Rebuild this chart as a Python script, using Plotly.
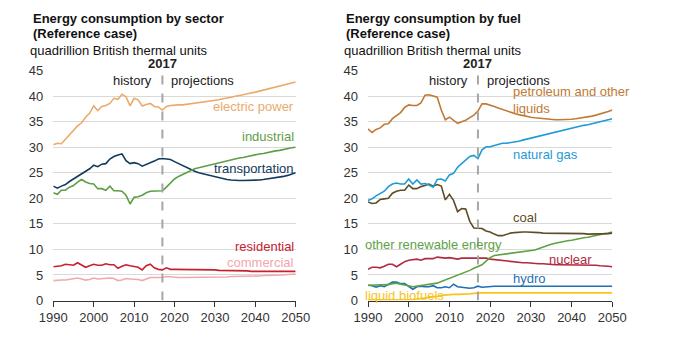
import plotly.graph_objects as go

years = list(range(1990, 2051))

# ---- Sector (left) ----
electric_power = [30.5,30.8,30.7,31.6,32.3,33.2,34.2,34.8,35.9,36.7,
                  38.1,37.2,38.0,38.2,38.6,39.6,39.4,40.4,39.9,38.1,
                  39.6,39.3,38.1,38.4,38.6,38.0,37.9,37.3,38.0,38.2,
                  38.3,38.3,38.3,38.4,38.5,38.7,38.8,38.9,39.0,39.1,
                  39.2,39.3,39.5,39.6,39.8,40.0,40.1,40.3,40.5,40.6,
                  40.8,41.0,41.2,41.3,41.5,41.7,41.9,42.1,42.3,42.5,
                  42.8]
transportation = [22.4,22.0,22.4,22.7,23.3,23.8,24.3,24.8,25.2,25.8,
                  26.5,26.2,26.7,26.8,27.7,28.2,28.5,28.7,27.4,26.8,
                  27.0,26.8,26.3,26.6,27.0,27.3,27.7,27.8,27.7,27.6,
                  27.2,26.8,26.5,26.1,25.7,25.3,25.0,24.8,24.6,24.4,
                  24.2,24.0,23.8,23.7,23.6,23.5,23.5,23.5,23.5,23.5,
                  23.5,23.6,23.7,23.8,23.9,24.0,24.2,24.3,24.5,24.7,
                  25.0]
industrial = [21.1,20.8,21.6,21.6,22.2,22.5,23.2,23.7,23.2,22.9,
              22.8,21.9,21.9,21.6,22.4,21.5,21.5,21.4,20.6,18.9,
              20.2,20.3,20.6,21.1,21.4,21.4,21.4,21.5,22.2,23.0,
              23.8,24.3,24.7,25.1,25.5,25.8,26.0,26.2,26.4,26.6,
              26.8,27.0,27.2,27.3,27.5,27.7,27.9,28.0,28.2,28.4,
              28.5,28.7,28.8,29.0,29.1,29.3,29.4,29.6,29.7,29.9,
              30.0]
residential = [6.6,6.7,6.8,7.1,7.0,6.9,7.4,6.9,6.5,6.8,
               7.1,6.9,6.9,7.2,7.0,7.0,6.3,6.7,7.0,6.8,
               6.7,6.5,6.0,6.8,7.1,6.4,6.1,6.0,6.4,6.1,
               6.1,6.1,6.1,6.1,6.0,6.0,6.0,6.0,6.0,6.0,
               6.0,5.9,5.9,5.9,5.9,5.9,5.8,5.8,5.8,5.7,
               5.7,5.7,5.7,5.7,5.7,5.7,5.7,5.7,5.7,5.7,
               5.7]
commercial = [3.9,4.0,4.0,4.0,4.1,4.2,4.4,4.2,4.0,4.1,
              4.4,4.2,4.3,4.3,4.4,4.3,3.9,4.0,4.3,4.2,
              4.2,4.1,3.9,4.2,4.5,4.5,4.5,4.5,4.7,4.6,
              4.5,4.5,4.5,4.5,4.5,4.5,4.5,4.5,4.5,4.5,
              4.6,4.6,4.6,4.6,4.7,4.7,4.7,4.7,4.8,4.8,
              4.8,4.8,4.9,4.9,4.9,5.0,5.0,5.0,5.1,5.1,
              5.2]

# ---- Fuel (right) ----
petroleum = [33.6,32.9,33.5,33.8,34.5,34.6,35.6,36.2,36.8,37.8,
             38.3,38.2,38.2,38.7,40.2,40.3,40.0,39.8,37.3,35.4,
             35.9,35.3,34.7,35.0,35.3,35.8,36.3,37.1,38.5,38.5,
             38.3,38.0,37.7,37.4,37.1,36.8,36.6,36.4,36.2,36.1,
             35.9,35.8,35.7,35.6,35.5,35.4,35.4,35.4,35.4,35.5,
             35.5,35.6,35.7,35.8,35.9,36.1,36.3,36.5,36.7,37.0,
             37.3]
natural_gas = [19.6,19.9,20.5,21.0,21.4,22.3,22.8,23.0,22.8,22.8,
               23.8,22.8,23.6,22.8,22.9,22.6,22.2,23.7,23.8,23.4,
               24.6,24.9,26.1,26.8,27.5,28.2,28.4,27.8,29.5,30.1,
               30.1,30.3,30.6,30.8,30.8,30.9,31.0,31.2,31.4,31.6,
               31.8,32.0,32.1,32.3,32.5,32.7,32.9,33.1,33.3,33.5,
               33.7,33.9,34.1,34.3,34.4,34.6,34.8,35.0,35.2,35.4,
               35.6]
coal = [19.3,19.0,19.1,19.8,19.9,20.0,21.0,21.4,21.6,21.6,
        22.6,21.9,21.9,22.3,22.5,22.8,22.4,22.7,22.4,19.7,
        20.8,19.6,17.4,18.0,17.9,15.5,14.2,14.1,14.1,13.6,
        13.4,13.0,12.7,12.7,13.0,13.2,13.3,13.4,13.4,13.4,
        13.4,13.3,13.3,13.2,13.2,13.2,13.2,13.2,13.2,13.2,
        13.2,13.1,13.1,13.1,13.0,13.0,13.1,13.1,13.1,13.1,
        13.2]
other_renewable = [3.0,3.0,3.0,3.1,3.1,3.1,3.3,3.4,3.2,3.1,
                   2.9,2.7,2.8,2.9,3.0,3.1,3.2,3.4,3.7,4.0,
                   4.4,4.7,4.9,5.3,5.6,5.9,6.3,6.6,7.0,7.7,
                   8.4,8.8,8.9,9.0,9.1,9.2,9.3,9.4,9.5,9.6,
                   9.7,9.9,10.2,10.5,10.8,11.0,11.2,11.4,11.5,11.7,
                   11.8,12.0,12.1,12.3,12.4,12.6,12.8,12.9,13.1,13.2,
                   13.4]
nuclear = [6.1,6.5,6.5,6.4,6.7,7.1,7.1,6.6,7.1,7.6,
           7.9,8.0,8.1,7.9,8.2,8.2,8.2,8.5,8.4,8.3,
           8.4,8.3,8.1,8.3,8.3,8.3,8.4,8.4,8.4,8.3,
           8.1,8.0,8.0,7.9,7.8,7.6,7.5,7.5,7.4,7.4,
           7.3,7.3,7.2,7.2,7.1,7.0,7.0,7.0,7.0,7.0,
           7.0,7.0,7.0,7.0,7.0,6.9,6.9,6.8,6.8,6.7,
           6.6]
hydro = [3.0,2.9,2.6,2.9,2.7,3.2,3.6,3.6,3.3,3.3,
         2.8,2.2,2.7,2.8,2.7,2.7,2.9,2.5,2.5,2.7,
         2.5,3.2,2.7,2.6,2.5,2.4,2.5,2.8,2.6,2.7,
         2.8,2.8,2.8,2.8,2.8,2.8,2.8,2.8,2.8,2.8,
         2.8,2.8,2.8,2.8,2.8,2.8,2.8,2.8,2.8,2.8,
         2.8,2.8,2.8,2.8,2.8,2.8,2.8,2.8,2.8,2.8,
         2.8]
liquid_biofuels = [0.1,0.1,0.1,0.1,0.1,0.1,0.1,0.1,0.1,0.1,
                   0.2,0.2,0.3,0.4,0.5,0.5,0.7,0.8,1.0,1.1,
                   1.2,1.2,1.2,1.2,1.3,1.3,1.4,1.5,1.5,1.5,
                   1.5,1.5,1.5,1.5,1.5,1.5,1.5,1.5,1.5,1.5,
                   1.5,1.5,1.5,1.5,1.5,1.5,1.5,1.5,1.5,1.5,
                   1.5,1.5,1.5,1.5,1.5,1.5,1.5,1.5,1.5,1.5,
                   1.5]

y_ticks = [0, 5, 10, 15, 20, 25, 30, 35, 40, 45]
x_ticks = [1990, 2000, 2010, 2020, 2030, 2040, 2050]
split_year = 2017

FONT = "Liberation Sans, Arial, sans-serif"
W, H = 688, 340

# (label, values, colour, label x, label y, anchor); label x None -> placed at panel's left edge
left_series = [
    ("electric power", electric_power, "#EBAA6C", 2050, 37.9, "right"),
    ("industrial", industrial, "#5E9E45", 2050, 32.1, "right"),
    ("transportation", transportation, "#123A5C", 2050, 25.9, "right"),
    ("residential", residential, "#C8202F", 2050, 10.5, "right"),
    ("commercial", commercial, "#F2A7AE", 2050, 7.4, "right"),
]
right_series = [
    ("petroleum and other<br>liquids", petroleum, "#C07A35", 2025.1, 39.2, "left"),
    ("natural gas", natural_gas, "#1E9AD8", 2025.1, 28.6, "left"),
    ("coal", coal, "#5E4C26", 2025.1, 16.2, "left"),
    ("other renewable energy", other_renewable, "#5EA245", None, 10.9, "left"),
    ("nuclear", nuclear, "#B12A3E", 2034.0, 8.1, "left"),
    ("hydro", hydro, "#1F6FB4", 2025.1, 4.3, "left"),
    ("liquid biofuels", liquid_biofuels, "#F9C31C", None, 0.9, "left"),
]

fig = go.Figure()
annotations = []

def add_panel(series, xa, ya, left_px):
    for name, vals, col, lx, ly, anchor in reversed(series):
        fig.add_trace(go.Scatter(x=years, y=vals, mode="lines", name=name.replace("<br>", " "),
                                 line=dict(color=col, width=1.6), xaxis=xa, yaxis=ya,
                                 showlegend=False, hoverinfo="skip"))
        if lx is None:
            annotations.append(dict(x=left_px / W, y=ly, xref="paper", yref=ya, text=name,
                                    showarrow=False, xanchor=anchor, yanchor="middle",
                                    font=dict(family=FONT, size=13, color=col)))
        else:
            annotations.append(dict(x=lx, y=ly, xref=xa, yref=ya, text=name, showarrow=False,
                                    xanchor=anchor, yanchor="middle", align="left",
                                    font=dict(family=FONT, size=13, color=col)))

add_panel(left_series, "x", "y", 48)
add_panel(right_series, "x2", "y2", 362.5)

def pv(ypx):
    return 1 - ypx / H

ydom = [pv(300.5), pv(70.7)]
axis_common = dict(range=[1990, 2050], tickvals=x_ticks, ticks="outside", ticklen=5,
                   tickcolor="#333333", showline=True, linecolor="#333333", linewidth=1,
                   showgrid=False, zeroline=False, automargin=False,
                   tickfont=dict(family=FONT, size=13, color="#333333"))
yaxis_common = dict(range=[0, 45], tickvals=y_ticks, showgrid=True, gridcolor="#D9D9D9",
                    gridwidth=1, zeroline=False, showline=False, ticks="", automargin=False,
                    tickfont=dict(family=FONT, size=13, color="#333333"))

fig.update_layout(
    width=W, height=H, margin=dict(l=0, r=0, t=0, b=0, autoexpand=False),
    paper_bgcolor="white", plot_bgcolor="white",
    xaxis=dict(domain=[53.3 / W, 295.7 / W], anchor="y", **axis_common),
    yaxis=dict(domain=ydom, anchor="x", ticklabelstandoff=9, **yaxis_common),
    xaxis2=dict(domain=[368 / W, 612.3 / W], anchor="y2", **axis_common),
    yaxis2=dict(domain=ydom, anchor="x2", ticklabelstandoff=9, **yaxis_common),
)

shapes = []
for xa, ya in [("x", "y"), ("x2", "y2")]:
    shapes.append(dict(type="line", xref=xa, yref=ya, x0=split_year, x1=split_year, y0=0, y1=45,
                       line=dict(color="#A6A6A6", width=2, dash="dash"), layer="above"))
    annotations.append(dict(x=split_year, y=pv(63), xref=xa, yref="paper", text="<b>2017</b>",
                            showarrow=False, xanchor="center", yanchor="middle",
                            font=dict(family=FONT, size=13, color="#222222")))
    annotations.append(dict(x=split_year, y=pv(80), xref=xa, yref="paper", text="history",
                            showarrow=False, xanchor="right", yanchor="middle", xshift=-8,
                            font=dict(family=FONT, size=13, color="#222222")))
    annotations.append(dict(x=split_year, y=pv(80), xref=xa, yref="paper", text="projections",
                            showarrow=False, xanchor="left", yanchor="middle", xshift=7,
                            font=dict(family=FONT, size=13, color="#222222")))

titles = [(30.5, "Energy consumption by sector"), (344.5, "Energy consumption by fuel")]
for x0, t in titles:
    annotations.append(dict(x=x0 / W, y=pv(18), xref="paper", yref="paper", text="<b>" + t + "</b>",
                            showarrow=False, xanchor="left", yanchor="middle",
                            font=dict(family=FONT, size=13, color="#111111")))
    annotations.append(dict(x=x0 / W, y=pv(34), xref="paper", yref="paper", text="<b>(Reference case)</b>",
                            showarrow=False, xanchor="left", yanchor="middle",
                            font=dict(family=FONT, size=13, color="#111111")))
    annotations.append(dict(x=(x0 - 3) / W, y=pv(50), xref="paper", yref="paper",
                            text="quadrillion British thermal units",
                            showarrow=False, xanchor="left", yanchor="middle",
                            font=dict(family=FONT, size=13, color="#111111")))

fig.update_layout(shapes=shapes, annotations=annotations)
fig.write_html("out.html")
